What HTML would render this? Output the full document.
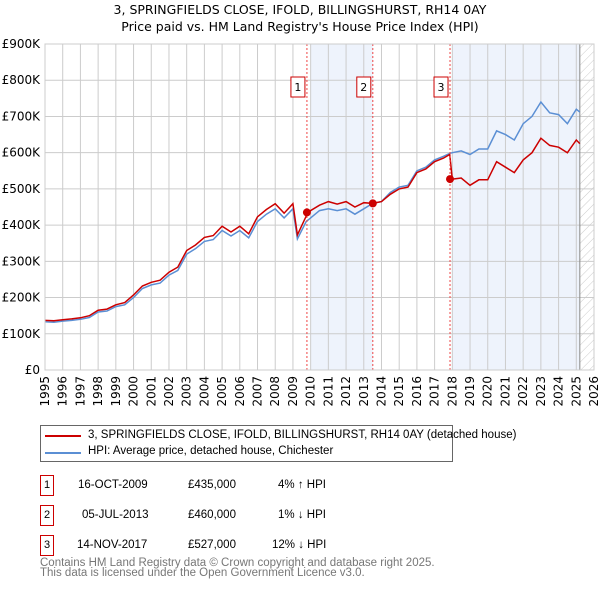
<!DOCTYPE html>
<html><head><meta charset="utf-8"><style>
body{margin:0;width:600px;height:590px;background:#fff;font-family:"DejaVu Sans","Liberation Sans",sans-serif;overflow:hidden;position:relative}
.t{position:absolute;font-size:11px;color:#000;white-space:nowrap}
.s{font-family:"Liberation Sans",sans-serif}
.box{position:absolute;width:12px;height:19px;border:1px solid #c00;font-size:11px;text-align:center;line-height:19px;background:#fff;font-family:"Liberation Sans",sans-serif}
</style></head><body>
<svg id="chart" width="600" height="420" style="position:absolute;left:0;top:0" font-family="DejaVu Sans, Liberation Sans, sans-serif"></svg>
<div class="t" style="left:0;width:600px;text-align:center;top:2px;font-size:12.5px">3, SPRINGFIELDS CLOSE, IFOLD, BILLINGSHURST, RH14 0AY</div>
<div class="t" style="left:0;width:600px;text-align:center;top:19px;font-size:12.5px">Price paid vs. HM Land Registry's House Price Index (HPI)</div>
<div style="position:absolute;left:40px;top:425px;width:411px;height:35px;border:1px solid #666">
 <div style="position:absolute;left:4px;top:9px;width:36px;height:2px;background:#c00"></div>
 <div class="t s" style="left:47px;top:3px;font-size:11.5px">3, SPRINGFIELDS CLOSE, IFOLD, BILLINGSHURST, RH14 0AY (detached house)</div>
 <div style="position:absolute;left:4px;top:26px;width:36px;height:2px;background:#5b8fd4"></div>
 <div class="t s" style="left:47px;top:19px;font-size:11.5px">HPI: Average price, detached house, Chichester</div>
</div>
<div>
<div class="box" style="left:40px;top:475px">1</div>
<div class="t s" style="left:78px;top:479px;font-size:11.5px">16-OCT-2009</div>
<div class="t s" style="left:188px;top:479px;font-size:11.5px">£435,000</div>
<div class="t s" style="left:278px;top:479px;font-size:11.5px">4% ↑ HPI</div>
<div class="box" style="left:40px;top:505px">2</div>
<div class="t s" style="left:82px;top:509px;font-size:11.5px">05-JUL-2013</div>
<div class="t s" style="left:188px;top:509px;font-size:11.5px">£460,000</div>
<div class="t s" style="left:278px;top:509px;font-size:11.5px">1% ↓ HPI</div>
<div class="box" style="left:40px;top:535px">3</div>
<div class="t s" style="left:77px;top:539px;font-size:11.5px">14-NOV-2017</div>
<div class="t s" style="left:188px;top:539px;font-size:11.5px">£527,000</div>
<div class="t s" style="left:272px;top:539px;font-size:11.5px">12% ↓ HPI</div>
</div>
<div class="t s" style="left:40px;top:558px;font-size:11.5px;color:#777;line-height:10px">Contains HM Land Registry data © Crown copyright and database right 2025.<br>This data is licensed under the Open Government Licence v3.0.</div>
<script>
const years=[1995,1995.5,1996,1996.5,1997,1997.5,1998,1998.5,1999,1999.5,2000,2000.5,2001,2001.5,2002,2002.5,2003,2003.5,2004,2004.5,2005,2005.5,2006,2006.5,2007,2007.5,2008,2008.5,2009,2009.25,2009.75,2010,2010.5,2011,2011.5,2012,2012.5,2013,2013.5,2014,2014.5,2015,2015.5,2016,2016.5,2017,2017.5,2017.85,2018,2018.5,2019,2019.5,2020,2020.5,2021,2021.5,2022,2022.5,2023,2023.5,2024,2024.5,2025,2025.2];
const hpi=[133,132,135,137,140,145,160,163,175,180,200,225,235,240,262,275,320,335,355,360,385,370,385,365,410,430,445,420,445,362,410,420,440,445,440,445,430,445,460,465,490,505,510,550,560,580,590,598,600,605,595,610,610,660,650,635,680,700,740,710,705,680,720,712];
const price=[137,136,139,141,144,150,165,168,180,186,207,232,242,248,270,284,330,345,366,371,397,381,397,376,423,443,459,433,459,373,425,440,455,465,458,465,450,462,460,465,485,500,505,545,555,575,585,595,527,530,510,525,525,575,560,545,580,600,640,620,615,600,635,625];
const sales=[[2009.79,435],[2013.51,460],[2017.87,527]];
const yTicks=[0,100,200,300,400,500,600,700,800,900];
const yLabels=["£0","£100K","£200K","£300K","£400K","£500K","£600K","£700K","£800K","£900K"];
const xTicks=[1995,1996,1997,1998,1999,2000,2001,2002,2003,2004,2005,2006,2007,2008,2009,2010,2011,2012,2013,2014,2015,2016,2017,2018,2019,2020,2021,2022,2023,2024,2025,2026];
const X0=45,X1=594,Y0=370,Y1=44;
const xs=v=>X0+(v-1995)/31*(X1-X0);
const ys=v=>Y0-v/900*(Y0-Y1);
const svg=document.getElementById('chart');const NS='http://www.w3.org/2000/svg';
function mk(tag,attrs,parent){const e=document.createElementNS(NS,tag);for(const k in attrs)e.setAttribute(k,attrs[k]);(parent||svg).appendChild(e);return e;}
const defs=mk('defs',{});
const pat=mk('pattern',{id:'hatch',width:6,height:6,patternUnits:'userSpaceOnUse',patternTransform:'rotate(45)'},defs);
mk('line',{x1:0,y1:0,x2:0,y2:6,stroke:'#ccc','stroke-width':1},pat);
let e;
e=mk('rect',{x:xs(2010),y:Y1,width:xs(2013.51)-xs(2010),height:Y0-Y1,fill:'#eef3fc'});


e=mk('rect',{x:xs(2018),y:Y1,width:xs(2025.2)-xs(2018),height:Y0-Y1,fill:'#eef3fc'});


e=mk('rect',{x:xs(2025.2),y:Y1,width:X1-xs(2025.2),height:Y0-Y1,fill:'url(#hatch)'});


yTicks.forEach((v,i)=>{
 e=mk('line',{x1:X0,x2:X1,y1:ys(v),y2:ys(v),stroke:'#ccc'});
 
 
 e=mk('text',{x:40,y:ys(v)+4,'text-anchor':'end','font-size':12});e.textContent=yLabels[i];
 
 
});
xTicks.forEach(v=>{
 e=mk('line',{x1:xs(v),x2:xs(v),y1:Y1,y2:Y0,stroke:'#ccc'});
 
 
 e=mk('text',{x:0,y:0,'text-anchor':'end','font-size':12,transform:`translate(${xs(v)+4},376) rotate(-90)`});e.textContent=v;
 
 
});
e=mk('line',{x1:xs(2025.2),x2:xs(2025.2),y1:Y1,y2:Y0,stroke:'#888'});


const pts=a=>a.map((v,i)=>xs(years[i]).toFixed(1)+','+ys(v).toFixed(1)).join(' ');
e=mk('polyline',{points:pts(hpi),fill:'none',stroke:'#5b8fd4','stroke-width':1.5});


e=mk('polyline',{points:pts(price),fill:'none',stroke:'#cc0000','stroke-width':1.5});


sales.forEach((s,i)=>{
 e=mk('line',{x1:xs(s[0]),x2:xs(s[0]),y1:Y1,y2:Y0,stroke:'#e44','stroke-dasharray':'2,2'});
 
 
 e=mk('circle',{cx:xs(s[0]),cy:ys(s[1]),r:4,fill:'#cc0000'});
 
 
 e=mk('rect',{x:xs(s[0])-16,y:77,width:14,height:20,fill:'#fff',stroke:'#cc0000'});
 
 
 e=mk('text',{x:xs(s[0])-9,y:91,'text-anchor':'middle','font-size':11});e.textContent=i+1;
 
 
});
e=mk('rect',{x:X0,y:Y1,width:X1-X0,height:Y0-Y1,fill:'none',stroke:'#ccc'});


</script>
</body></html>
